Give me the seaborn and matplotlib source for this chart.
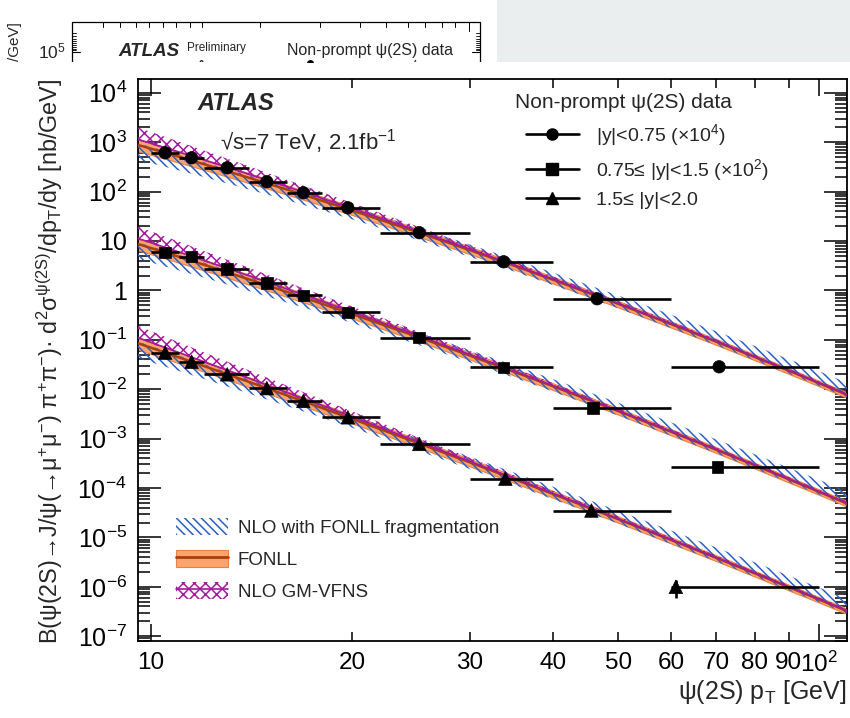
import matplotlib
matplotlib.use("Agg")
import matplotlib.pyplot as plt
import numpy as np
import pandas as pd
import seaborn as sns
from matplotlib.lines import Line2D
from matplotlib.patches import Patch, Rectangle
from matplotlib.ticker import FixedLocator, FuncFormatter, NullFormatter

# ---------------- data ----------------
bin_lo = [10, 11, 12, 14, 16, 18, 22, 30, 40, 60]
bin_hi = [11, 12, 14, 16, 18, 22, 30, 40, 60, 100]

pt_y1 = [10.5, 11.5, 13.0, 14.9, 16.9, 19.7, 25.2, 33.7, 46.5, 70.8]
xs_y1 = [610, 483, 303, 158, 94.6, 47.0, 14.7, 3.79, 0.676, 0.0284]          # x 1e4
err_y1 = [0.03, 0.03, 0.03, 0.03, 0.03, 0.03, 0.04, 0.05, 0.08, 0.20]

pt_y2 = [10.5, 11.5, 13.0, 14.9, 16.9, 19.7, 25.2, 33.7, 45.8, 70.4]
xs_y2 = [5.85, 4.85, 2.73, 1.41, 0.789, 0.357, 0.111, 0.0275, 0.00414, 2.69e-4]  # x 1e2
err_y2 = [0.03, 0.03, 0.03, 0.03, 0.03, 0.03, 0.04, 0.05, 0.10, 0.15]

pt_y3 = [10.5, 11.5, 13.0, 14.9, 16.9, 19.7, 25.2, 33.9, 45.6, 61.0]
xs_y3 = [0.055, 0.036, 0.020, 0.0105, 0.0058, 0.0027, 7.8e-4, 1.55e-4, 3.5e-5, 1.0e-6]
err_y3 = [0.04, 0.04, 0.04, 0.04, 0.04, 0.05, 0.06, 0.08, 0.12, 0.40]

legend_title = "Non-prompt ψ(2S) data"
series_labels = ["|y|<0.75 (×10$^{4}$)", "0.75≤ |y|<1.5 (×10$^{2}$)", "1.5≤ |y|<2.0"]
model_labels = ["NLO with FONLL fragmentation", "FONLL", "NLO GM-VFNS"]

# theory predictions (FONLL central value per rapidity slice, same scaling as data)
pt_grid = [9.5, 10, 11, 12, 14, 16, 18, 20, 25, 30, 35, 40, 50, 60, 70, 80, 90, 100, 110]
fonll_y1 = [901, 738, 507, 358, 191, 109, 65.6, 41.4, 15.2, 6.52, 3.13, 1.63, 0.534,
            0.208, 0.0925, 0.045, 0.0237, 0.01315, 0.0077]
fonll_y2 = [8.93, 7.19, 4.80, 3.30, 1.68, 0.924, 0.540, 0.332, 0.1158, 0.0478, 0.0223,
            0.01137, 0.0036, 0.001375, 6.0e-4, 2.89e-4, 1.505e-4, 8.32e-5, 4.84e-5]
fonll_y3 = [0.0876, 0.069, 0.0442, 0.02937, 0.01413, 0.00743, 0.00419, 0.002504, 8.27e-4,
            3.30e-4, 1.50e-4, 7.52e-5, 2.34e-5, 8.88e-6, 3.88e-6, 1.88e-6, 9.84e-7, 5.5e-7, 3.23e-7]

# band edges and model centres relative to FONLL
fonll_lo = [0.74, 0.75, 0.76, 0.77, 0.78, 0.79, 0.80, 0.81, 0.82, 0.83, 0.84, 0.84, 0.85, 0.85, 0.86, 0.86, 0.86, 0.87, 0.87]
fonll_hi = [1.32, 1.30, 1.28, 1.26, 1.24, 1.22, 1.21, 1.20, 1.18, 1.17, 1.16, 1.15, 1.14, 1.13, 1.13, 1.12, 1.12, 1.12, 1.12]
gm_c     = [1.30, 1.28, 1.25, 1.22, 1.18, 1.14, 1.12, 1.10, 1.07, 1.05, 1.04, 1.03, 1.02, 1.02, 1.02, 1.02, 1.02, 1.02, 1.02]
gm_lo    = [0.95, 0.95, 0.96, 0.96, 0.96, 0.96, 0.96, 0.96, 0.96, 0.96, 0.96, 0.96, 0.96, 0.96, 0.97, 0.97, 0.97, 0.97, 0.97]
gm_hi    = [1.75, 1.70, 1.62, 1.55, 1.45, 1.38, 1.33, 1.29, 1.22, 1.18, 1.15, 1.13, 1.11, 1.10, 1.09, 1.08, 1.08, 1.08, 1.08]
nlo_lo   = [0.50, 0.51, 0.53, 0.55, 0.58, 0.61, 0.64, 0.66, 0.70, 0.73, 0.76, 0.78, 0.81, 0.83, 0.85, 0.86, 0.87, 0.88, 0.88]
nlo_hi   = [1.08, 1.08, 1.09, 1.10, 1.12, 1.14, 1.16, 1.19, 1.24, 1.30, 1.35, 1.40, 1.48, 1.55, 1.62, 1.67, 1.71, 1.75, 1.75]

x_major = [10, 100]
x_minor = [20, 30, 40, 50, 60, 70, 80, 90]
y_decades = list(range(-7, 5))

# ---------------- style ----------------
sns.set_theme(style="ticks")
plt.rcParams["font.family"] = ["Liberation Sans", "DejaVu Sans"]
plt.rcParams["mathtext.default"] = "regular"
plt.rcParams["hatch.linewidth"] = 1.1

C_NLO = "#2b5fc4"
C_FONLL = "#fba46e"
C_FONLL_EDGE = "#f08040"
C_FONLL_LINE = "#a8400c"
C_GM = "#a4199e"

W, H = 850, 718
fig = plt.figure(figsize=(W / 100, H / 100), dpi=100)
fig.patch.set_facecolor("white")

L, R, T, B = 138, 847, 79, 641
ax = fig.add_axes([L / W, 1 - B / H, (R - L) / W, (B - T) / H])
ax.set_xscale("log")
ax.set_yscale("log")
ax.set_xlim(9.56, 110)
ax.set_ylim(8.0e-8, 1.9e4)
ax.set_facecolor("white")

pt_arr = np.array(pt_grid)
for central in (fonll_y1, fonll_y2, fonll_y3):
    c = np.array(central)
    ax.fill_between(pt_arr, c * np.array(fonll_lo), c * np.array(fonll_hi),
                    facecolor=C_FONLL, edgecolor=C_FONLL_EDGE, linewidth=0.8, zorder=2)
    ax.fill_between(pt_arr, c * np.array(nlo_lo), c * np.array(nlo_hi),
                    facecolor="none", edgecolor=C_NLO, linewidth=0, hatch="\\\\\\\\", zorder=3)
    g = c * np.array(gm_c)
    ax.fill_between(pt_arr, g * np.array(gm_lo), g * np.array(gm_hi),
                    facecolor="none", edgecolor=C_GM, linewidth=0, hatch="xxx", zorder=4)
    sns.lineplot(x=pt_arr, y=c, color=C_FONLL_LINE, lw=1.8, ax=ax, zorder=5,
                 sort=False, estimator=None)
    sns.lineplot(x=pt_arr, y=g, color=C_GM, lw=1.2, ax=ax, zorder=5,
                 sort=False, estimator=None)

# data points
frames = []
for name, pts, vals in (("s1", pt_y1, xs_y1), ("s2", pt_y2, xs_y2), ("s3", pt_y3, xs_y3)):
    frames.append(pd.DataFrame({"pt": pts, "xs": vals, "series": name}))
df = pd.concat(frames, ignore_index=True)

for pts, vals, errs in ((pt_y1, xs_y1, err_y1), (pt_y2, xs_y2, err_y2), (pt_y3, xs_y3, err_y3)):
    p = np.array(pts)
    v = np.array(vals)
    e = np.array(errs)
    xerr = [np.clip(p - np.array(bin_lo), 0, None), np.array(bin_hi) - p]
    ax.errorbar(p, v, xerr=xerr, yerr=v * e, fmt="none", ecolor="black",
                elinewidth=1.9, capsize=0, zorder=6)

sns.scatterplot(data=df, x="pt", y="xs", style="series",
                markers={"s1": "o", "s2": "s", "s3": "^"},
                size="series", sizes={"s1": 80, "s2": 70, "s3": 95},
                color="black", edgecolor="black", linewidth=0.5,
                legend=False, ax=ax, zorder=7)

# ---------------- axes ----------------
ax.set_xlabel("")
ax.set_ylabel("")
ax.grid(False)
for s in ax.spines.values():
    s.set_linewidth(1.3)
    s.set_color("black")

ax.xaxis.set_major_locator(FixedLocator(x_major))
ax.xaxis.set_major_formatter(FuncFormatter(lambda v, _: "10" if v < 50 else "10$^{2}$"))
ax.xaxis.set_minor_locator(FixedLocator(x_minor))
ax.xaxis.set_minor_formatter(FuncFormatter(lambda v, _: f"{int(round(v))}"))

def ylab(v, _):
    k = int(round(np.log10(v)))
    if k == 1:
        return "10"
    if k == 0:
        return "1"
    return "10$^{%d}$" % k

y_major = [10.0 ** k for k in y_decades]
y_minor = [m * 10.0 ** k for k in [-8] + y_decades for m in range(2, 10)]
y_minor = [v for v in y_minor if 8.0e-8 <= v <= 1.9e4]
ax.yaxis.set_major_locator(FixedLocator(y_major))
ax.yaxis.set_major_formatter(FuncFormatter(ylab))
ax.yaxis.set_minor_locator(FixedLocator(y_minor))
ax.yaxis.set_minor_formatter(NullFormatter())

ax.tick_params(axis="both", which="both", direction="in", colors="black", width=1.1,
               top=True, right=True)
ax.tick_params(axis="x", which="major", length=12, pad=8, labelsize=17.5)
ax.tick_params(axis="x", which="minor", length=6.5, pad=8, labelsize=17.5)
ax.tick_params(axis="y", which="major", length=16.5, pad=8, labelsize=18)
ax.tick_params(axis="y", which="minor", length=8.5)

fig.text(R / W, 1 - 692 / H, "ψ(2S) p$_{T}$ [GeV]", fontsize=18, ha="right", va="center")
fig.text(50 / W, 1 - 361 / H,
         "B(ψ(2S)→J/ψ(→μ$^{+}$μ$^{-}$) π$^{+}$π$^{-}$)· d$^{2}$σ$^{ψ(2S)}$/dp$_{T}$/dy [nb/GeV]",
         fontsize=16.8, rotation=90, ha="center", va="center")

fig.text(197 / W, 1 - 103 / H, "ATLAS", fontsize=17, fontweight="bold", fontstyle="italic",
         ha="left", va="center")
fig.text(220 / W, 1 - 142 / H, "√s=7 TeV, 2.1fb$^{-1}$", fontsize=16, ha="left", va="center")

# data legend
fig.text(515 / W, 1 - 103 / H, legend_title, fontsize=15, ha="left", va="center")
data_handles = [
    Line2D([], [], color="black", lw=1.9, marker="o", markersize=8),
    Line2D([], [], color="black", lw=1.9, marker="s", markersize=8),
    Line2D([], [], color="black", lw=1.9, marker="^", markersize=8.5),
]
fig.legend(data_handles, series_labels,
           fontsize=14, frameon=False, loc="upper left", bbox_to_anchor=(526 / W, 1 - 122 / H),
           bbox_transform=fig.transFigure, handlelength=2.7, handletextpad=0.9,
           labelspacing=0.45, borderpad=0, borderaxespad=0)

# theory legend
th_handles = [
    Patch(facecolor="none", edgecolor=C_NLO, linewidth=0, hatch="\\\\\\\\"),
    (Patch(facecolor=C_FONLL, edgecolor=C_FONLL_EDGE, linewidth=0.8),
     Line2D([], [], color=C_FONLL_LINE, lw=2.0)),
    (Patch(facecolor="none", edgecolor=C_GM, linewidth=0, hatch="xxx"),
     Line2D([], [], color=C_GM, lw=1.2)),
]
fig.legend(th_handles, model_labels,
           fontsize=13.5, frameon=False, loc="upper left", bbox_to_anchor=(176 / W, 1 - 518 / H),
           bbox_transform=fig.transFigure, handlelength=2.75, handleheight=1.05,
           handletextpad=0.55, labelspacing=0.68, borderpad=0, borderaxespad=0)

# ---------------- clipped strip along the top ----------------
strip_h = 62
axs = fig.add_axes([0, 1 - strip_h / H, 1, strip_h / H])
axs.set_xlim(0, W)
axs.set_ylim(strip_h, 0)
axs.axis("off")
axs.add_patch(Rectangle((497, 0), W - 497, strip_h, facecolor="#eaeeef", edgecolor="none"))
axs.plot([72, 72, 480, 480], [strip_h + 5, 22, 22, strip_h + 5], color="black", lw=0.9,
         clip_on=True)
for xt in [103, 120, 136, 149, 163, 176, 190, 202, 260, 320, 360, 386, 408, 425, 442, 455]:
    axs.plot([xt, xt], [22, 27], color="black", lw=0.7, clip_on=True)
axs.plot([469, 469], [22, 31], color="black", lw=0.7, clip_on=True)
for yt in [33, 36, 39, 41, 43, 45, 47, 49, 50]:
    axs.plot([72, 76], [yt, yt], color="black", lw=0.6, clip_on=True)
    axs.plot([480, 476], [yt, yt], color="black", lw=0.6, clip_on=True)
axs.plot([72, 80], [52, 52], color="black", lw=0.8, clip_on=True)
axs.plot([480, 472], [52, 52], color="black", lw=0.8, clip_on=True)
axs.text(15, 42, "/GeV]", rotation=90, fontsize=11, ha="center", va="center", clip_on=True)
axs.text(38, 51, "10$^{5}$", fontsize=12.5, ha="left", va="center", clip_on=True)
axs.text(118, 51, "ATLAS", fontsize=13.5, fontweight="bold", fontstyle="italic",
         ha="left", va="center", clip_on=True)
axs.text(187, 48, "Preliminary", fontsize=8.5, ha="left", va="center", clip_on=True)
axs.text(287, 50, "Non-prompt ψ(2S) data", fontsize=11.5, ha="left", va="center", clip_on=True)
axs.text(130, 69, "√s=7 TeV  ∫Ldt=2.1fb$^{-1}$", fontsize=9.5, ha="left", va="center",
         clip_on=True)
axs.plot([298, 322], [63, 63], color="black", lw=1.0, clip_on=True)
axs.plot([310], [63], marker="o", color="black", markersize=4, clip_on=True)
axs.text(330, 69, "|y|<0.75 (×10$^{4}$)", fontsize=10, ha="left", va="center", clip_on=True)

fig.savefig("out.png", dpi=100, facecolor="white")
